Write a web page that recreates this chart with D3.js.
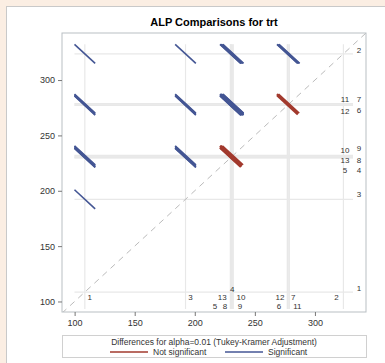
<!DOCTYPE html>
<html>
<head>
<meta charset="utf-8">
<script src="https://cdn.jsdelivr.net/npm/d3@7"></script>
<style>
  body { margin: 0; background: #fbeee3; }
  text { font-family: "Liberation Sans", Arial, sans-serif; fill: #333; }
</style>
</head>
<body>
<div id="chart"></div>
<script>
// group means for ALP by trt
const groups = ['1', '2', '3', '4', '5', '6', '7', '8', '9', '10', '11', '12', '13'];
const means = [108.5, 323.7, 192.3, 230.3, 229.6, 277.3, 278.3, 230.6, 231.6, 232.0, 278.7, 277.0, 229.9];
// half-width of the Tukey-Kramer interval for a difference
const ciHalfWidth = 17.2;
const xTicks = [100, 150, 200, 250, 300];
const yTicks = [100, 150, 200, 250, 300];
const axisDomain = [89.5, 342.5];

// label placement (nudges in px from each group's reference line)
const rightLabelLayout = {
  '1': ['o', -4], '2': ['o', -4], '3': ['o', -5], '4': ['o', 12.8], '5': ['i', 12.5],
  '6': ['o', 5.3], '7': ['o', -5.1], '8': ['o', 3.1], '9': ['o', -7.3], '10': ['i', -5.3],
  '11': ['i', -4.6], '12': ['i', 5], '13': ['i', 2.8]
};
const bottomLabelLayout = {
  '1': [5, 1], '2': [-7, 1], '3': [5, 1], '4': [1.1, 0], '5': [-15.3, 2],
  '6': [-8.7, 2], '7': [4.4, 1], '8': [-6.5, 2], '9': [7.3, 2], '10': [7.8, 1],
  '11': [8, 2], '12': [-7.3, 1], '13': [-8.4, 1]
};

const width = 385, height = 363;
const margin = {top: 33, right: 19, bottom: 51, left: 62};
const plotW = width - margin.left - margin.right;
const plotH = height - margin.top - margin.bottom;

const blue = '#445694', red = '#a23a2e';

const svg = d3.select('#chart').append('svg')
  .attr('width', width)
  .attr('height', height);

// outer panel
svg.append('rect')
  .attr('x', 6.5).attr('y', 6.5)
  .attr('width', width).attr('height', height)
  .attr('fill', '#fff').attr('stroke', '#c9c9c9');

svg.append('text')
  .attr('x', margin.left + plotW / 2).attr('y', 26)
  .attr('text-anchor', 'middle')
  .style('font-size', '11px').style('font-weight', 'bold')
  .style('fill', '#000')
  .text('ALP Comparisons for trt');

const g = svg.append('g').attr('transform', `translate(${margin.left},${margin.top})`);

const x = d3.scaleLinear().domain(axisDomain).range([0, plotW]);
const y = d3.scaleLinear().domain([90.5, 342.5]).range([plotH, 0]);

g.append('clipPath').attr('id', 'clip')
  .append('rect').attr('width', plotW).attr('height', plotH);

const data = groups.map((k, i) => ({k, m: means[i]}));
const minM = d3.min(means), maxM = d3.max(means);
const h = ciHalfWidth / 2;

// reference lines
const refs = g.append('g').attr('stroke', '#e8e8e8').attr('stroke-width', 1.2);
refs.selectAll('.hr').data(data).join('line')
  .attr('x1', x(minM - h)).attr('x2', plotW - 13)
  .attr('y1', d => y(d.m)).attr('y2', d => y(d.m));
refs.selectAll('.vr').data(data).join('line')
  .attr('y1', y(maxM + h)).attr('y2', plotH - 3)
  .attr('x1', d => x(d.m)).attr('x2', d => x(d.m));

// diagonal
g.append('line')
  .attr('clip-path', 'url(#clip)')
  .attr('x1', x(axisDomain[0])).attr('y1', y(axisDomain[0]))
  .attr('x2', x(axisDomain[1])).attr('y2', y(axisDomain[1]))
  .attr('stroke', '#bbb').attr('stroke-dasharray', '6,5');

// pairwise difference segments
const pairs = [];
for (let i = 0; i < data.length; i++) {
  for (let j = 0; j < data.length; j++) {
    if (i !== j && data[i].m < data[j].m) {
      pairs.push({lo: data[i].m, hi: data[j].m, sig: (data[j].m - data[i].m) > ciHalfWidth});
    }
  }
}
g.append('g').selectAll('line').data(pairs).join('line')
  .attr('x1', d => x(d.lo - h)).attr('y1', d => y(d.hi + h))
  .attr('x2', d => x(d.lo + h)).attr('y2', d => y(d.hi - h))
  .attr('stroke', d => d.sig ? blue : red)
  .attr('stroke-width', 1.6);

// group labels
const lab = g.append('g').style('font-size', '8px');
lab.selectAll('.rl').data(data).join('text')
  .attr('x', d => rightLabelLayout[d.k][0] === 'o' ? plotW - 7 : plotW - 21)
  .attr('y', d => y(d.m) + rightLabelLayout[d.k][1] + 3)
  .attr('text-anchor', 'middle')
  .text(d => d.k);
const rowY = [plotH - 23, plotH - 15.5, plotH - 6.5];
lab.selectAll('.bl').data(data).join('text')
  .attr('x', d => x(d.m) + bottomLabelLayout[d.k][0])
  .attr('y', d => rowY[bottomLabelLayout[d.k][1]] + 3)
  .attr('text-anchor', 'middle')
  .text(d => d.k);

// frame
g.append('rect').attr('width', plotW).attr('height', plotH)
  .attr('fill', 'none').attr('stroke', '#b9bfc3');

// axes
const xAxis = g.append('g').attr('transform', `translate(0,${plotH})`)
  .call(d3.axisBottom(x).tickValues(xTicks).tickSize(4).tickPadding(4));
const yAxis = g.append('g')
  .call(d3.axisLeft(y).tickValues(yTicks).tickSize(4).tickPadding(3));
[xAxis, yAxis].forEach(a => {
  a.select('.domain').remove();
  a.selectAll('line').attr('stroke', '#777');
  a.selectAll('text').style('font-size', '9px').style('fill', '#333')
    .style('font-family', '"Liberation Sans", Arial, sans-serif');
});

// legend
const leg = svg.append('g');
leg.append('rect')
  .attr('x', margin.left + 0.5).attr('y', 335.5)
  .attr('width', plotW).attr('height', 22)
  .attr('fill', '#fff').attr('stroke', '#d0d0d0');
leg.append('text')
  .attr('x', margin.left + plotW / 2).attr('y', 345)
  .attr('text-anchor', 'middle').style('font-size', '8.5px')
  .text('Differences for alpha=0.01 (Tukey-Kramer Adjustment)');
const items = [{c: red, t: 'Not significant', x: 110}, {c: blue, t: 'Significant', x: 225}];
items.forEach(it => {
  leg.append('line').attr('x1', it.x).attr('x2', it.x + 38)
    .attr('y1', 352).attr('y2', 352)
    .attr('stroke', it.c).attr('stroke-width', 1.5);
  leg.append('text').attr('x', it.x + 43).attr('y', 355)
    .style('font-size', '8.5px').text(it.t);
});
</script>
</body>
</html>
